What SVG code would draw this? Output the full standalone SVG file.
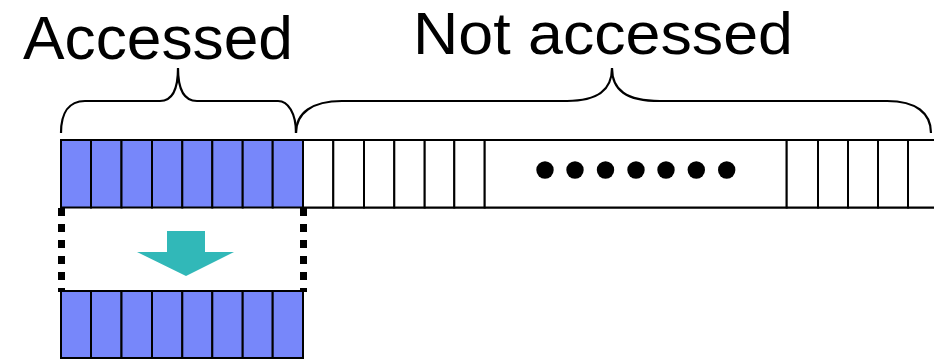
<svg xmlns="http://www.w3.org/2000/svg" width="934" height="359" viewBox="0 0 934 359">
  <style>
    .label { font-family: "Liberation Sans", Arial, sans-serif; fill: #000; text-anchor: middle; }
    .cell { stroke: #000; stroke-width: 2; }
    .hit { fill: #7787fa; }
    .miss { fill: #fff; }
    .brace { fill: none; stroke: #000; stroke-width: 2.2; }
    .dots { fill: none; stroke: #000; stroke-width: 7; stroke-dasharray: 8 8; }
  </style>

  <rect width="934" height="359" fill="#fff"/>

  <!-- labels -->
  <g id="label-accessed"><text class="label" x="158" y="59" font-size="62" textLength="270" lengthAdjust="spacingAndGlyphs">Accessed</text></g>
  <g id="label-not-accessed"><text class="label" x="603" y="54" font-size="59.5" textLength="380" lengthAdjust="spacingAndGlyphs">Not accessed</text></g>

  <!-- curly braces over the two ranges -->
  <g id="brace-accessed">
    <path class="brace" d="M61,133 C61,113 69,101 85,101 L160,101 C172,101 178,90 178,68 C178,90 184,101 197,101 L278,101 C288,101 296,113 296,133"/>
  </g>
  <g id="brace-not-accessed">
    <path class="brace" d="M296,133 C296,113 312,101 342,101 L567,101 C598,101 612,90 612,68 C612,90 626,101 660,101 L887,101 C916,101 931,113 931,133"/>
  </g>

  <!-- top row: accessed elements -->
  <g id="row-accessed">
    <rect class="cell hit" x="61" y="140" width="30" height="67.5"/>
    <rect class="cell hit" x="91" y="140" width="30.5" height="67.5"/>
    <rect class="cell hit" x="121.5" y="140" width="30.5" height="67.5"/>
    <rect class="cell hit" x="152" y="140" width="30.3" height="67.5"/>
    <rect class="cell hit" x="182.3" y="140" width="30" height="67.5"/>
    <rect class="cell hit" x="212.3" y="140" width="30.4" height="67.5"/>
    <rect class="cell hit" x="242.7" y="140" width="30" height="67.5"/>
    <rect class="cell hit" x="272.7" y="140" width="30.3" height="67.5"/>
  </g>

  <!-- top row: remaining elements -->
  <g id="row-not-accessed">
    <path class="cell miss" d="M303,140 H934 M303,207.5 H934"/>
    <rect class="cell miss" x="303" y="140" width="30.3" height="67.5"/>
    <rect class="cell miss" x="333.3" y="140" width="30.7" height="67.5"/>
    <rect class="cell miss" x="364" y="140" width="30.3" height="67.5"/>
    <rect class="cell miss" x="394.3" y="140" width="30.4" height="67.5"/>
    <rect class="cell miss" x="424.7" y="140" width="29.6" height="67.5" stroke-width="2.4"/>
    <rect class="cell miss" x="454.3" y="140" width="30.4" height="67.5"/>
    <rect class="cell miss" x="484.7" y="140" width="302" height="67.5"/>
    <rect class="cell miss" x="786.7" y="140" width="31.3" height="67.5"/>
    <rect class="cell miss" x="818" y="140" width="30" height="67.5"/>
    <rect class="cell miss" x="848" y="140" width="30" height="67.5"/>
    <rect class="cell miss" x="878" y="140" width="30" height="67.5"/>
    <rect class="cell miss" x="908" y="140" width="30" height="67.5"/>
    <g id="ellipsis" fill="#000">
      <circle cx="545" cy="170" r="8.7"/>
      <circle cx="575" cy="170" r="8.7"/>
      <circle cx="605.5" cy="170" r="8.7"/>
      <circle cx="636" cy="170" r="8.7"/>
      <circle cx="666" cy="170" r="8.7"/>
      <circle cx="696.3" cy="170" r="8.7"/>
      <circle cx="726.7" cy="170" r="8.7"/>
    </g>
  </g>

  <!-- bottom row: copied elements -->
  <g id="row-copied">
    <rect class="cell hit" x="61" y="291" width="30" height="67"/>
    <rect class="cell hit" x="91" y="291" width="30.5" height="67"/>
    <rect class="cell hit" x="121.5" y="291" width="30.5" height="67"/>
    <rect class="cell hit" x="152" y="291" width="30.3" height="67"/>
    <rect class="cell hit" x="182.3" y="291" width="30" height="67"/>
    <rect class="cell hit" x="212.3" y="291" width="30.4" height="67"/>
    <rect class="cell hit" x="242.7" y="291" width="30" height="67"/>
    <rect class="cell hit" x="272.7" y="291" width="30.3" height="67"/>
  </g>

  <!-- connectors: dotted frame sides and the transfer arrow -->
  <g id="connectors">
    <path class="dots" d="M61.5,208 V292 M303.5,208 V292"/>
    <polygon fill="#31b8b8" points="167,231 205,231 205,252 234,252 186,276 137,252 167,252"/>
  </g>
</svg>
